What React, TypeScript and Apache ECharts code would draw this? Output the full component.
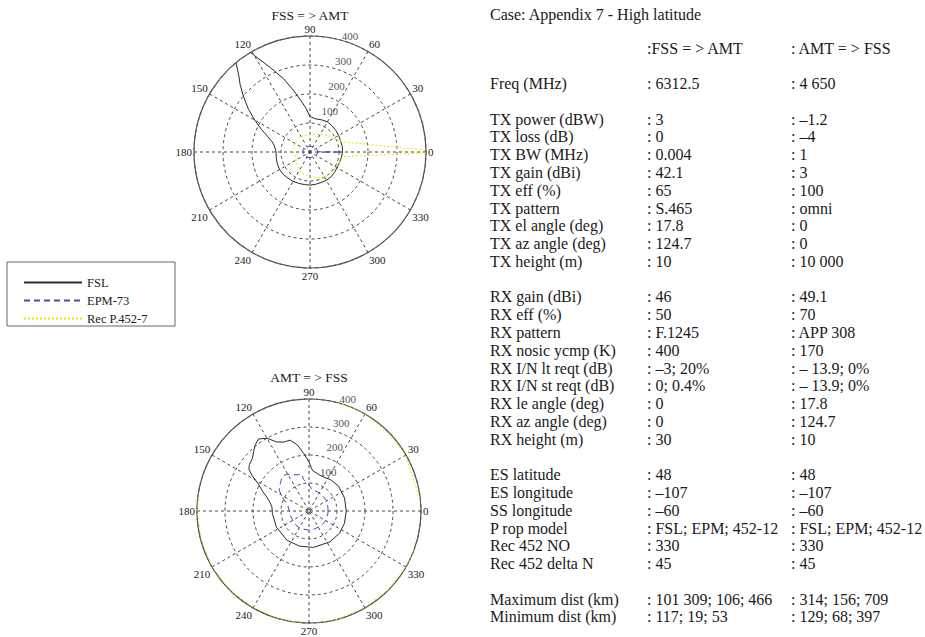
import React, { useEffect, useRef } from 'react';
import * as echarts from 'echarts';

const FONT = 'Liberation Serif';

// radial tick labels (km)
const radiusTicks = [100, 200, 300, 400];

// ---------- FSS => AMT ----------
const fwdFslAz = [0, 10, 20, 30, 40, 50, 60, 70, 80, 90, 95, 100, 105, 110, 115, 120, 122, 125, 128, 130, 133, 136, 140, 145, 150, 155, 160, 165, 170, 180, 190, 200, 210, 220, 230, 240, 250, 260, 270, 280, 290, 300, 310, 320, 330, 340, 350, 360];
const fwdFslKm = [112, 113, 112, 114, 116, 118, 120, 118, 116, 122, 150, 180, 220, 270, 320, 385, 420, 440, 420, 395, 360, 335, 300, 260, 220, 185, 155, 135, 125, 117, 118, 120, 121, 120, 118, 117, 115, 114, 114, 113, 112, 113, 112, 110, 108, 108, 110, 112];

const fwdEpmAz = [0, 2, 20, 45, 70, 90, 110, 135, 160, 180, 200, 225, 250, 270, 290, 315, 340, 358, 360];
const fwdEpmKm = [106, 26, 26, 22, 20, 19, 21, 23, 25, 24, 25, 22, 20, 19, 20, 22, 26, 26, 106];

const fwdRecAz = [0, 17, 30, 45, 60, 75, 90, 110, 125, 150, 180, 200, 220, 235, 250, 270, 288, 304, 320, 342, 352, 360];
const fwdRecKm = [466, 119, 95, 82, 70, 62, 59, 60, 63, 60, 58, 53, 60, 68, 78, 86, 92, 103, 103, 109, 115, 466];

// ---------- AMT => FSS ----------
const revFslAz = [0, 20, 40, 55, 70, 85, 90, 95, 100, 105, 110, 115, 120, 125, 129, 133, 137, 142, 145, 148, 152, 157, 162, 168, 174, 184, 206, 233, 255, 277, 304, 324, 341, 360];
const revFslKm = [133, 135, 138, 136, 132, 145, 175, 205, 240, 262, 262, 272, 300, 314, 305, 290, 276, 270, 262, 240, 205, 180, 158, 142, 133, 131, 130, 131, 130, 131, 133, 135, 134, 133];

const revEpmAz = [0, 12, 31, 54, 83, 91, 100, 101, 113, 121, 127, 135, 145, 150, 155, 162, 180, 199, 222, 243, 268, 283, 312, 330, 351, 360];
const revEpmKm = [68, 69, 73, 75, 79, 96, 115, 133, 140, 153, 156, 144, 130, 115, 100, 82, 70, 68, 69, 70, 68, 68, 68, 69, 68, 68];

const revRecAz = [0, 30, 45, 60, 75, 90, 105, 120, 135, 150, 165, 180, 195, 210, 225, 240, 255, 270, 285, 300, 315, 330, 345, 360];
const revRecKm = [410, 398, 397, 400, 402, 430, 520, 709, 600, 450, 405, 400, 398, 400, 400, 398, 400, 405, 400, 398, 399, 400, 405, 410];

// ---------- table ----------
const caseTitle = 'Case: Appendix 7 - High latitude';
const rowLabels = ['', '', 'Freq (MHz)', '', 'TX power (dBW)', 'TX loss (dB)', 'TX BW (MHz)', 'TX gain (dBi)', 'TX eff (%)', 'TX pattern', 'TX el angle (deg)', 'TX az angle (deg)', 'TX height (m)', '', 'RX gain (dBi)', 'RX eff (%)', 'RX pattern', 'RX nosic ycmp (K)', 'RX I/N lt reqt (dB)', 'RX I/N st reqt (dB)', 'RX le angle (deg)', 'RX az angle (deg)', 'RX height (m)', '', 'ES latitude', 'ES longitude', 'SS longitude', 'P rop model', 'Rec 452 NO', 'Rec 452 delta N', '', 'Maximum dist (km)', 'Minimum dist (km)'];
const fssAmtCol = [':FSS = > AMT', '', ': 6312.5', '', ': 3', ': 0', ': 0.004', ': 42.1', ': 65', ': S.465', ': 17.8', ': 124.7', ': 10', '', ': 46', ': 50', ': F.1245', ': 400', ': \u20133; 20%', ': 0; 0.4%', ': 0', ': 0', ': 30', '', ': 48', ': \u2013107', ': \u201360', ': FSL; EPM; 452-12', ': 330', ': 45', '', ': 101 309; 106; 466', ': 117; 19; 53'];
const amtFssCol = [': AMT = > FSS', '', ': 4 650', '', ': \u20131.2', ': \u20134', ': 1', ': 3', ': 100', ': omni', ': 0', ': 0', ': 10 000', '', ': 49.1', ': 70', ': APP 308', ': 170', ': \u2013 13.9; 0%', ': \u2013 13.9; 0%', ': 17.8', ': 124.7', ': 10', '', ': 48', ': \u2013107', ': \u201360', ': FSL; EPM; 452-12', ': 330', ': 45', '', ': 314; 156; 709', ': 129; 68; 397'];

const seriesNames = ['FSL', 'EPM-73', 'Rec P.452-7'];
const plotTitles = ['FSS = > AMT', 'AMT = > FSS'];

const COLORS = { fsl: '#2a2a2a', epm: '#4a4aa6', rec: '#e6e600' };

function polarLine(name: string, polarIndex: number, az: number[], km: number[], color: string, type: any, width: number) {
  return {
    type: 'line',
    name,
    coordinateSystem: 'polar',
    polarIndex,
    data: km.map((r, i) => [r, az[i]]),
    symbol: 'none',
    showSymbol: false,
    clip: true,
    silent: true,
    lineStyle: { color, type, width },
    itemStyle: { color },
  };
}

function tickLabels(polarIndex: number) {
  return {
    type: 'scatter',
    name: 'rticks' + polarIndex,
    coordinateSystem: 'polar',
    polarIndex,
    clip: false,
    silent: true,
    symbolSize: 1,
    itemStyle: { color: 'rgba(0,0,0,0)' },
    data: radiusTicks.map((t) => [t * 0.9 + 55, 75]),
    label: {
      show: true,
      position: 'right',
      distance: 0,
      color: '#222',
      fontFamily: FONT,
      fontSize: 11,
      formatter: (p: any) => String(radiusTicks[p.dataIndex]),
    },
    z: 5,
  };
}

export default function App() {
  const ref = useRef<HTMLDivElement>(null);
  useEffect(() => {
    const chart = echarts.init(ref.current!, null, { renderer: 'svg' });
    const rowY = (i: number) => 48 + i * 17.78;
    const tableTexts: any[] = [];
    const txt = (t: string, x: number, y: number) => ({
      type: 'text', x, y,
      style: { text: t, fontFamily: FONT, fontSize: 16, fill: '#1a1a1a', verticalAlign: 'middle' },
    });
    tableTexts.push(txt(caseTitle, 490, 14));
    rowLabels.forEach((t, i) => { if (t) tableTexts.push(txt(t, 490, rowY(i))); });
    fssAmtCol.forEach((t, i) => { if (t) tableTexts.push(txt(t, 647, rowY(i))); });
    amtFssCol.forEach((t, i) => { if (t) tableTexts.push(txt(t, 791, rowY(i))); });

    const centers = [[310, 152], [309, 511]];
    const radii = [116, 112];
    const titleY = [15, 377];

    const option: any = {
      animation: false,
      backgroundColor: '#fff',
      polar: centers.map((c, i) => ({ center: c, radius: radii[i] })),
      angleAxis: [0, 1].map((i) => ({
        polarIndex: i,
        type: 'value',
        min: 0,
        max: 360,
        interval: 30,
        startAngle: 0,
        clockwise: false,
        axisLine: { show: true, lineStyle: { color: '#555', width: 1.2 } },
        axisTick: { show: false },
        axisLabel: {
          show: true,
          margin: 2,
          color: '#222',
          fontFamily: FONT,
          fontSize: 11,
          formatter: (v: number) => (v === 360 ? '' : String(v)),
        },
        splitLine: { show: true, lineStyle: { color: '#444', type: [3, 3], width: 1 } },
      })),
      radiusAxis: [0, 1].map((i) => ({
        polarIndex: i,
        type: 'value',
        min: 0,
        max: 400,
        interval: 100,
        axisLine: { show: false },
        axisTick: { show: false },
        axisLabel: { show: false },
        splitLine: { show: true, lineStyle: { color: '#444', type: [3, 3], width: 1 } },
      })),
      legend: {
        left: 18,
        top: 271,
        orient: 'vertical',
        itemWidth: 58,
        itemHeight: 14,
        itemGap: 5,
        selectedMode: false,
        data: seriesNames,
        itemStyle: { opacity: 0, color: 'rgba(0,0,0,0)', borderWidth: 0 },
        textStyle: { fontFamily: FONT, fontSize: 12.5, color: '#222' },
      },
      graphic: [
        { type: 'rect', shape: { x: 7, y: 262, width: 168, height: 64 }, style: { fill: '#fff', stroke: '#666', lineWidth: 1 }, z: -1 },
        ...plotTitles.map((t, i) => ({
          type: 'text',
          x: centers[i][0],
          y: titleY[i],
          style: { text: t, fontFamily: FONT, fontSize: 13.5, fill: '#1a1a1a', align: 'center', verticalAlign: 'middle' },
        })),
        ...tableTexts,
      ],
      series: [
        polarLine(seriesNames[0], 0, fwdFslAz, fwdFslKm, COLORS.fsl, 'solid', 1),
        polarLine(seriesNames[1], 0, fwdEpmAz, fwdEpmKm, COLORS.epm, [6, 4], 1),
        polarLine(seriesNames[2], 0, fwdRecAz, fwdRecKm, COLORS.rec, [2, 2], 1),
        polarLine(seriesNames[0], 1, revFslAz, revFslKm, COLORS.fsl, 'solid', 1),
        polarLine(seriesNames[1], 1, revEpmAz, revEpmKm, COLORS.epm, [6, 4], 1),
        polarLine(seriesNames[2], 1, revRecAz, revRecKm, COLORS.rec, [2, 2], 1),
        tickLabels(0),
        tickLabels(1),
      ],
    };
    chart.setOption(option);
    return () => chart.dispose();
  }, []);
  return <div ref={ref} style={{ position: 'fixed', left: 0, top: 0, width: 925, height: 637, background: '#fff' }} />;
}
